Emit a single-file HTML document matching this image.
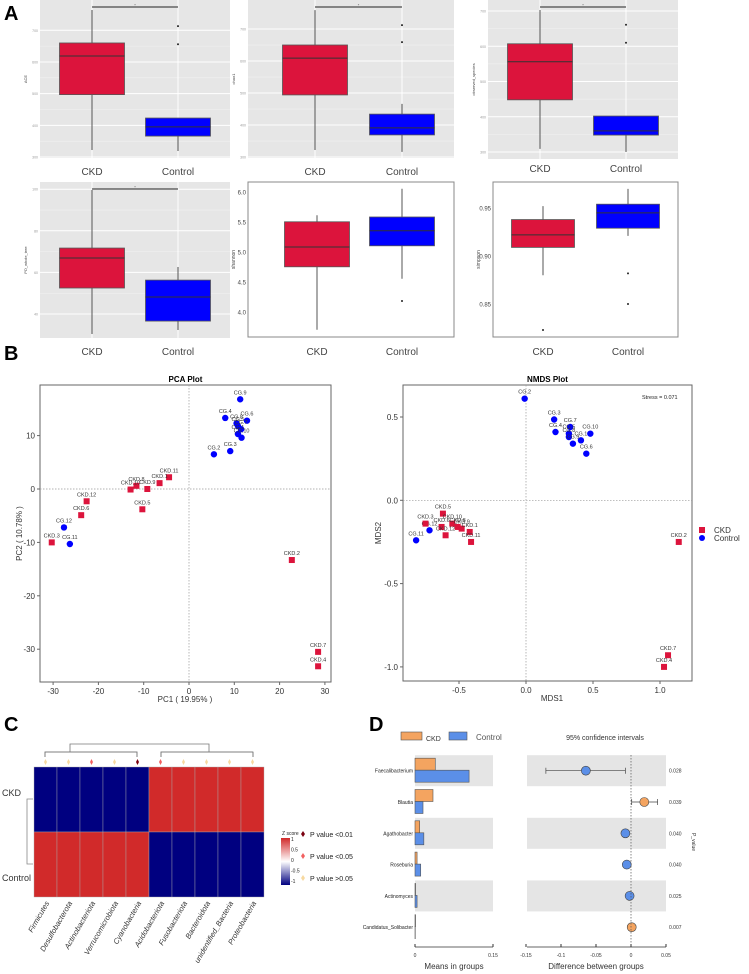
<!DOCTYPE html>
<html><head><meta charset="utf-8">
<style>
html,body{margin:0;padding:0;background:#fff;}
svg{display:block;font-family:"Liberation Sans",sans-serif;}
</style></head>
<body>
<svg id="fig" width="749" height="974" viewBox="0 0 749 974" xmlns="http://www.w3.org/2000/svg">
<text x="4" y="20" font-size="20" font-weight="bold">A</text>
<text x="4" y="360" font-size="20" font-weight="bold">B</text>
<text x="4" y="731" font-size="20" font-weight="bold">C</text>
<text x="369" y="731" font-size="20" font-weight="bold">D</text>
</svg>
<script>
// ===== Data: alpha diversity boxplots [low, q1, median, q3, high] =====
const groups = ["CKD","Control"];
const aceCKD = [322,497,619,660,764];
const aceCtrl = [319,366,395,423,423];
const aceOut = [713,656];
const chaoCKD = [322,494,609,650,759];
const chaoCtrl = [316,369,391,434,466];
const chaoOut = [712,659];
const obsCKD = [309,448,556,607,703];
const obsCtrl = [300,348,360,402,402];
const obsOut = [661,610];
const pdCKD = [30.4,52.5,66.9,71.7,99.6];
const pdCtrl = [32.3,36.6,48.2,56.3,62.6];
const pdOut = [];
const shanCKD = [3.72,4.77,5.1,5.52,5.63];
const shanCtrl = [4.57,5.12,5.37,5.6,6.07];
const shanOut = [4.2];
const simpCKD = [0.881,0.910,0.923,0.939,0.953];
const simpCKDOut = [0.824];
const simpCtrl = [0.922,0.930,0.946,0.955,0.971];
const simpOut = [0.883,0.851];
const aceTicks=[300,400,500,600,700], chaoTicks=[300,400,500,600,700], obsTicks=[300,400,500,600,700];
const pdTicks=[40,60,80,100], shanTicks=["4.0","4.5","5.0","5.5","6.0"], simpTicks=["0.85","0.90","0.95"];

// ===== PCA =====
const pcaLabels=["CG.9","CG.4","CG.6","CG.8","CG.5","CG.7","CG.1","CG.10","CG.2","CG.3","CG.12","CG.11",
"CKD.11","CKD.1","CKD.8","CKD.10","CKD.9","CKD.5","CKD.12","CKD.6","CKD.3","CKD.2","CKD.7","CKD.4"];
const pcaX=[11.3,8,12.8,10.5,10.8,11.5,10.8,11.6,5.5,9.1,-27.6,-26.3,-4.4,-6.5,-11.6,-12.9,-9.2,-10.3,-22.6,-23.8,-30.3,22.7,28.5,28.5];
const pcaY=[16.8,13.3,12.8,12.3,11.8,11.2,10.3,9.6,6.5,7.1,-7.2,-10.3,2.2,1.1,0.6,-0.1,0,-3.8,-2.3,-4.9,-10,-13.3,-30.5,-33.2];
const pcaXTicks=[-30,-20,-10,0,10,20,30];
const pcaYTicks=[-30,-20,-10,0,10];
// ===== NMDS =====
const nmdsLabels=["CG.2","CG.3","CG.4","CG.7","CG.5","CG.8","CG.1","CG.9","CG.10","CG.6","CG.12","CG.11",
"CKD.5","CKD.3","CKD.10","CKD.6","CKD.12","CKD.8","CKD.9","CKD.1","CKD.11","CKD.2","CKD.7","CKD.4"];
const nmdsX=[-0.01,0.21,0.22,0.33,0.32,0.32,0.41,0.35,0.48,0.45,-0.72,-0.82,-0.62,-0.75,-0.55,-0.63,-0.6,-0.51,-0.48,-0.42,-0.41,1.14,1.06,1.03];
const nmdsY=[0.61,0.485,0.41,0.44,0.40,0.38,0.36,0.34,0.40,0.28,-0.18,-0.24,-0.08,-0.14,-0.14,-0.16,-0.21,-0.16,-0.17,-0.19,-0.25,-0.25,-0.93,-1.0];
const nmdsXTicks=["-0.5","0.0","0.5","1.0"];
const nmdsYTicks=["-1.0","-0.5","0.0","0.5"];
// ===== Heatmap =====
const phyla=["Firmicutes","Desulfobacterota","Actinobacteriota","Verrucomicrobiota","Cyanobacteria","Acidobacteriota","Fusobacteriota","Bacteroidota","unidentified_Bacteria","Proteobacteria"];
const zCKD=[-1,-1,-1,-1,-1,1,1,1,1,1];
const zCtrl=[1,1,1,1,1,-1,-1,-1,-1,-1];
const pClass=[2,2,1,2,0,1,2,2,2,2];
// ===== LEfSe-like D =====
const genera=["Faecalibacterium","Blautia","Agathobacter","Roseburia","Actinomyces","Candidatus_Solibacter"];
const meanCKD=[0.039,0.0346,0.009,0.004,0.001,0.001];
const meanCtrl=[0.104,0.0154,0.017,0.011,0.004,0.0005];
const diff=[-0.0645,0.019,-0.008,-0.006,-0.002,0.001];
const ciLo=[-0.1216,0.001,-0.012,-0.009,-0.004,0];
const ciHi=[-0.008,0.038,-0.004,-0.003,0.001,0.003];
const pvals=["0.028","0.039","0.040","0.040","0.025","0.007"];
const meanTicks=["0","0.15"];
const diffTicks=["-0.15","-0.1","-0.05","0","0.05"];

const NS="http://www.w3.org/2000/svg";
const svg=document.getElementById('fig');
function mk(tag,attrs,name,parent){
  const el=document.createElementNS(NS,tag);
  for(const k in attrs) el.setAttribute(k,attrs[k]);
  
  
  (parent||svg).appendChild(el);return el;
}
function txt(x,y,s,size,name,extra){
  const el=mk('text',Object.assign({x:x,y:y,'font-size':size},extra||{}),name);
  el.textContent=s;return el;
}
function lin(v0,p0,v1,p1){return v=>p0+(v-v0)*(p1-p0)/(v1-v0);}

// ---- Boxplots ----
function boxPanel(c){
  const y=lin(c.a0,c.p0,c.a1,c.p1);
  if(c.gg){
    mk('rect',{x:c.x0,y:c.y0,width:c.x1-c.x0,height:c.y1-c.y0,fill:'#e6e6e6'},c.name+'-background');
    for(let i=0;i<c.ticks.length;i++){
      const t=+c.ticks[i];
      mk('line',{x1:c.x0,x2:c.x1,y1:y(t),y2:y(t),stroke:'#fff','stroke-width':1},c.name+'-gridline');
      if(i<c.ticks.length-1){const m=(t+ +c.ticks[i+1])/2;
        mk('line',{x1:c.x0,x2:c.x1,y1:y(m),y2:y(m),stroke:'#f3f3f3','stroke-width':0.5},c.name+'-minor-gridline');}
    }
    c.cx.forEach(cx=>mk('line',{x1:cx,x2:cx,y1:c.y0,y2:c.y1,stroke:'#fff','stroke-width':1},c.name+'-x-gridline'));
  } else {
    mk('rect',{x:c.x0,y:c.y0,width:c.x1-c.x0,height:c.y1-c.y0,fill:'#fff',stroke:'#888','stroke-width':1},c.name+'-frame');
  }
  c.ticks.forEach(t=>txt(c.x0-2,y(+t)+1.5,t,c.gg?3.5:6,c.name+'-y-tick',{'text-anchor':'end',fill:c.gg?'#999':'#444'}));
  const yt=txt(c.x0-13,(c.y0+c.y1)/2,c.title,c.gg?4:5,c.name+'-y-title',{'text-anchor':'middle',fill:'#444',transform:`rotate(-90 ${c.x0-13} ${(c.y0+c.y1)/2})`});
  const cols=['#dc143c','#0000ff'];
  c.data.forEach((d,i)=>{
    const cx=c.cx[i],w=c.bw;
    mk('line',{x1:cx,x2:cx,y1:y(d[0]),y2:y(d[4]),stroke:'#555','stroke-width':1},c.name+'-whisker-'+groups[i]);
    mk('rect',{x:cx-w/2,y:y(d[3]),width:w,height:y(d[1])-y(d[3]),fill:cols[i],stroke:'#555','stroke-width':0.8},c.name+'-box-'+groups[i]);
    mk('line',{x1:cx-w/2,x2:cx+w/2,y1:y(d[2]),y2:y(d[2]),stroke:'#333','stroke-width':1},c.name+'-median-'+groups[i]);
    c.outs[i].forEach(o=>mk('circle',{cx:cx,cy:y(o),r:1,fill:'#222'},c.name+'-outlier'));
  });
  if(c.sig!==undefined){
    mk('line',{x1:c.cx[0],x2:c.cx[1],y1:c.sig,y2:c.sig,stroke:'#222','stroke-width':1},c.name+'-significance-bar');
    txt((c.cx[0]+c.cx[1])/2,c.sig-0.5,'*',4,c.name+'-significance-star',{'text-anchor':'middle',fill:'#555'});
  }
  groups.forEach((g,i)=>txt(c.cx[i],c.lab,g,10,c.name+'-x-label',{'text-anchor':'middle',fill:'#444'}));
}
boxPanel({name:'ace',gg:1,x0:40,x1:230,y0:0,y1:158,a0:300,p0:157,a1:700,p1:30.3,ticks:aceTicks,cx:[92,178],bw:65,data:[aceCKD,aceCtrl],outs:[[],aceOut],sig:7,lab:175,title:'ACE'});
boxPanel({name:'chao1',gg:1,x0:248,x1:454,y0:0,y1:158,a0:300,p0:157,a1:700,p1:29,ticks:chaoTicks,cx:[315,402],bw:65,data:[chaoCKD,chaoCtrl],outs:[[],chaoOut],sig:7,lab:175,title:'chao1'});
boxPanel({name:'observed-species',gg:1,x0:488,x1:678,y0:0,y1:159,a0:300,p0:152,a1:700,p1:11,ticks:obsTicks,cx:[540,626],bw:65,data:[obsCKD,obsCtrl],outs:[[],obsOut],sig:7,lab:172,title:'observed_species'});
boxPanel({name:'pd-whole-tree',gg:1,x0:40,x1:230,y0:182,y1:338,a0:40,p0:314,a1:100,p1:189.2,ticks:pdTicks,cx:[92,178],bw:65,data:[pdCKD,pdCtrl],outs:[[],pdOut],sig:189,lab:355,title:'PD_whole_tree'});
boxPanel({name:'shannon',gg:0,x0:248,x1:454,y0:182,y1:337,a0:4,p0:313,a1:6,p1:193,ticks:shanTicks,cx:[317,402],bw:65,data:[shanCKD,shanCtrl],outs:[[],shanOut],lab:355,title:'shannon'});
boxPanel({name:'simpson',gg:0,x0:493,x1:678,y0:182,y1:337,a0:0.85,p0:305,a1:0.95,p1:209,ticks:simpTicks,cx:[543,628],bw:63,data:[simpCKD,simpCtrl],outs:[simpCKDOut,simpOut],lab:355,title:'simpson'});

// ---- Scatter plots ----
function scatter(c){
  const X=lin(c.xa0,c.xp0,c.xa1,c.xp1),Y=lin(c.ya0,c.yp0,c.ya1,c.yp1);
  mk('rect',{x:c.x0,y:c.y0,width:c.x1-c.x0,height:c.y1-c.y0,fill:'#fff',stroke:'#666','stroke-width':1},c.name+'-frame');
  mk('line',{x1:X(0),x2:X(0),y1:c.y0,y2:c.y1,stroke:'#999','stroke-width':0.7,'stroke-dasharray':'1.5,1.5'},c.name+'-zero-vline');
  mk('line',{x1:c.x0,x2:c.x1,y1:Y(0),y2:Y(0),stroke:'#999','stroke-width':0.7,'stroke-dasharray':'1.5,1.5'},c.name+'-zero-hline');
  c.xt.forEach(t=>{mk('line',{x1:X(+t),x2:X(+t),y1:c.y1,y2:c.y1+3,stroke:'#666'},c.name+'-x-tick-mark');
    txt(X(+t),c.y1+12,t,8,c.name+'-x-tick',{'text-anchor':'middle',fill:'#333'});});
  c.yt.forEach(t=>{mk('line',{x1:c.x0-3,x2:c.x0,y1:Y(+t),y2:Y(+t),stroke:'#666'},c.name+'-y-tick-mark');
    txt(c.x0-5,Y(+t)+3,t,8,c.name+'-y-tick',{'text-anchor':'end',fill:'#333'});});
  txt((c.x0+c.x1)/2,c.y0-3,c.title,8,c.name+'-title',{'text-anchor':'middle','font-weight':'bold'});
  txt(c.xlx,c.y1+20,c.xl,8,c.name+'-x-title',{'text-anchor':'middle',fill:'#333'});
  txt(c.ylx,(c.y0+c.y1)/2,c.yl,8,c.name+'-y-title',{'text-anchor':'middle',fill:'#333',transform:`rotate(-90 ${c.ylx} ${(c.y0+c.y1)/2})`});
  c.lab.forEach((l,i)=>{
    const px=X(c.xs[i]),py=Y(c.ys[i]);
    if(l.startsWith('CKD')) mk('rect',{x:px-3,y:py-3,width:6,height:6,fill:'#dc143c'},c.name+'-point-ckd');
    else mk('circle',{cx:px,cy:py,r:3.2,fill:'#0000ff'},c.name+'-point-control');
    txt(px,py-5,l,5.5,c.name+'-point-label',{'text-anchor':'middle',fill:'#333'});
  });
}
scatter({name:'pca',x0:40,x1:331,y0:385,y1:682,xa0:0,xp0:189,xa1:10,xp1:234.3,ya0:0,yp0:489,ya1:10,yp1:435.6,
  xt:pcaXTicks,yt:pcaYTicks,title:'PCA Plot',xl:'PC1 ( 19.95% )',xlx:185,yl:'PC2 ( 10.78% )',ylx:22,lab:pcaLabels,xs:pcaX,ys:pcaY});
scatter({name:'nmds',x0:403,x1:692,y0:385,y1:681,xa0:0,xp0:526,xa1:1,xp1:660,ya0:0,yp0:500.3,ya1:0.5,yp1:417,
  xt:nmdsXTicks,yt:nmdsYTicks,title:'NMDS Plot',xl:'MDS1',xlx:552,yl:'MDS2',ylx:381,lab:nmdsLabels,xs:nmdsX,ys:nmdsY});
txt(642,399,'Stress = 0.071',5.5,'nmds-stress-label',{fill:'#222'});
mk('rect',{x:699,y:527,width:6,height:6,fill:'#dc143c'},'legend-ckd-marker');
txt(714,533,'CKD',8,'legend-ckd-label',{fill:'#333'});
mk('circle',{cx:702,cy:538,r:3,fill:'#0000ff'},'legend-control-marker');
txt(714,541,'Control',8,'legend-control-label',{fill:'#333'});

// ---- Heatmap ----
(function(){
  const x0=34,cw=23,yT=767,rh=65;
  const col=z=>z>0?'#d12a2a':'#000080';
  const pcol=['#7a0010','#f26060','#f7d9a0'];
  phyla.forEach((p,i)=>{
    mk('rect',{x:x0+i*cw,y:yT,width:cw,height:rh,fill:col(zCKD[i]),stroke:'#aaa','stroke-width':0.4},'heatmap-cell-ckd');
    mk('rect',{x:x0+i*cw,y:yT+rh,width:cw,height:rh,fill:col(zCtrl[i]),stroke:'#aaa','stroke-width':0.4},'heatmap-cell-control');
    const cx=x0+i*cw+cw/2;
    mk('path',{d:`M${cx} ${759}L${cx+1.5} ${762}L${cx} ${765}L${cx-1.5} ${762}Z`,fill:pcol[pClass[i]]},'heatmap-pvalue-marker');
    const t=txt(cx+4,yT+2*rh+6,p,7.5,'heatmap-column-label',{'text-anchor':'end','font-style':'italic',fill:'#333',transform:`rotate(-60 ${cx+4} ${yT+2*rh+6})`});
  });
  mk('path',{d:'M45 757V752H137V757M161 757V752H253V752M253 757V752M70 752V744H209V752M91 752',fill:'none',stroke:'#777','stroke-width':0.8},'column-dendrogram');
  mk('path',{d:'M45 757V752H137V757M161 757V752H253V757',fill:'none',stroke:'#777','stroke-width':0.8},'column-dendrogram-leaves');
  mk('path',{d:'M33 799H27V864H33',fill:'none',stroke:'#888','stroke-width':0.8},'row-dendrogram');
  txt(2,796,'CKD',9,'heatmap-row-label',{fill:'#333'});
  txt(2,881,'Control',9,'heatmap-row-label',{fill:'#333'});
  const g=mk('linearGradient',{id:'zg',x1:0,y1:0,x2:0,y2:1},'zscore-gradient');
  [['0','#d12a2a'],['0.5','#ffffff'],['1','#000080']].forEach(s=>mk('stop',{offset:s[0],'stop-color':s[1]},'gradient-stop',g));
  mk('rect',{x:281,y:838,width:9,height:47,fill:'url(#zg)'},'zscore-colorbar');
  txt(282,835,'Z score',5,'zscore-title',{fill:'#222'});
  ['1','0.5','0','-0.5','-1'].forEach((t,i)=>txt(291,841+i*10.5,t,5,'zscore-tick',{fill:'#222'}));
  ['P value <0.01','P value <0.05','P value >0.05'].forEach((t,i)=>{
    const cy=834+i*22;
    mk('path',{d:`M303 ${cy-3}L305 ${cy}L303 ${cy+3}L301 ${cy}Z`,fill:pcol[i]},'pvalue-legend-marker');
    txt(310,cy+3,t,7,'pvalue-legend-label',{fill:'#222'});
  });
})();

// ---- Panel D ----
(function(){
  const rowC=i=>770.7+i*31.3, bandH=31;
  const MX=lin(0,415,0.15,493), DX=lin(0,631,0.05,666);
  const orange='#f4a460', blue='#5b8fe8';
  mk('rect',{x:401,y:732,width:21,height:8,fill:orange,stroke:'#555','stroke-width':0.6},'legend-ckd-swatch');
  txt(426,741,'CKD',7,'legend-ckd-text',{fill:'#333'});
  mk('rect',{x:449,y:732,width:18,height:8,fill:blue,stroke:'#555','stroke-width':0.6},'legend-control-swatch');
  txt(476,740,'Control',8,'legend-control-text',{fill:'#555'});
  txt(605,740,'95% confidence intervals',7,'ci-title',{'text-anchor':'middle',fill:'#333'});
  genera.forEach((g,i)=>{
    const cy=rowC(i);
    if(i%2===0){
      mk('rect',{x:415,y:cy-bandH/2,width:78,height:bandH,fill:'#e5e5e5'},'means-band');
      mk('rect',{x:527,y:cy-bandH/2,width:139,height:bandH,fill:'#e5e5e5'},'diff-band');
    }
    mk('rect',{x:415,y:cy-12.5,width:MX(meanCKD[i])-415,height:12,fill:orange,stroke:'#555','stroke-width':0.6},'mean-bar-ckd');
    mk('rect',{x:415,y:cy-0.5,width:MX(meanCtrl[i])-415,height:12,fill:blue,stroke:'#555','stroke-width':0.6},'mean-bar-control');
    txt(413,cy+2,g,5,'genus-label',{'text-anchor':'end',fill:'#222'});
    mk('line',{x1:DX(ciLo[i]),x2:DX(ciHi[i]),y1:cy,y2:cy,stroke:'#444','stroke-width':0.7},'ci-line');
    [ciLo[i],ciHi[i]].forEach(v=>mk('line',{x1:DX(v),x2:DX(v),y1:cy-3,y2:cy+3,stroke:'#444','stroke-width':0.7},'ci-cap'));
    mk('circle',{cx:DX(diff[i]),cy:cy,r:4.5,fill:diff[i]<0?blue:orange,stroke:'#444','stroke-width':0.6},'diff-point');
    txt(669,cy+2,pvals[i],5,'p-value-label',{fill:'#333'});
  });
  mk('line',{x1:DX(0),x2:DX(0),y1:755,y2:944,stroke:'#555','stroke-width':0.7,'stroke-dasharray':'1.5,1.5'},'zero-line');
  mk('line',{x1:415,x2:493,y1:947,y2:947,stroke:'#333','stroke-width':0.8},'means-x-axis');
  meanTicks.forEach(t=>{mk('line',{x1:MX(+t),x2:MX(+t),y1:944,y2:947,stroke:'#333'},'means-tick-mark');
    txt(MX(+t),957,t,5,'means-tick',{'text-anchor':'middle',fill:'#333'});});
  txt(454,969,'Means in groups',8,'means-x-title',{'text-anchor':'middle',fill:'#333'});
  mk('line',{x1:527,x2:666,y1:947,y2:947,stroke:'#333','stroke-width':0.8},'diff-x-axis');
  diffTicks.forEach(t=>{mk('line',{x1:DX(+t),x2:DX(+t),y1:944,y2:947,stroke:'#333'},'diff-tick-mark');
    txt(DX(+t),957,t,5,'diff-tick',{'text-anchor':'middle',fill:'#333'});});
  txt(596,969,'Difference between groups',8,'diff-x-title',{'text-anchor':'middle',fill:'#333'});
  txt(692,842,'P_value',5,'p-value-title',{'text-anchor':'middle',fill:'#333',transform:'rotate(90 692 842)'});
})();
</script>
</body></html>
